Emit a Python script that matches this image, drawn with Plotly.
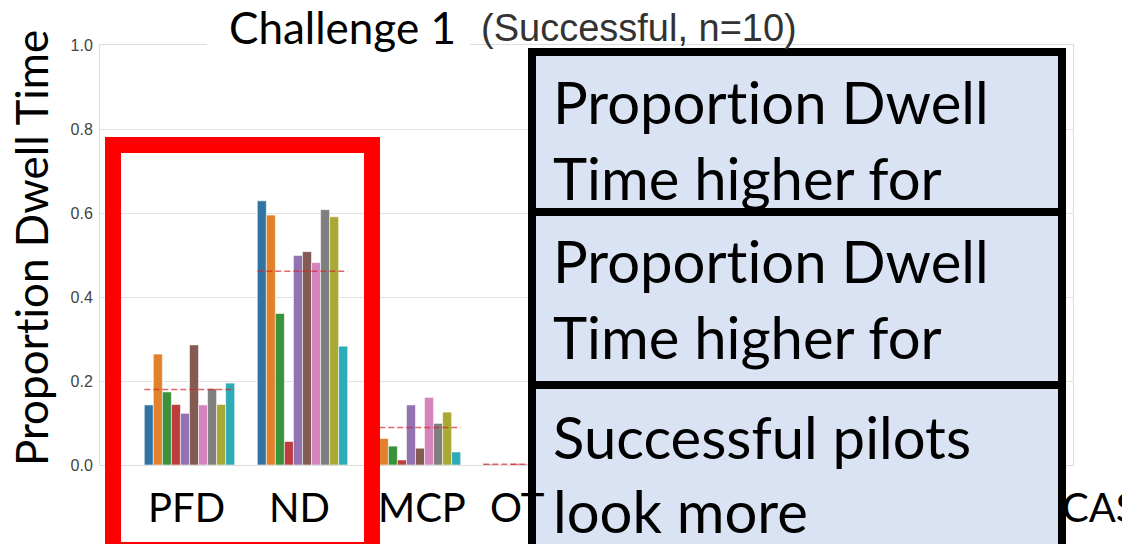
import plotly.graph_objects as go

# ---------------- data ----------------
categories = ["PFD", "ND", "MCP", "OTW", "FMS", "OVHD", "EFB", "CAS"]
pilots = ["P1", "P2", "P3", "P4", "P5", "P6", "P7", "P8", "P9", "P10"]

pfd = [0.143, 0.264, 0.174, 0.144, 0.123, 0.286, 0.143, 0.182, 0.144, 0.195]
nd = [0.629, 0.595, 0.361, 0.056, 0.499, 0.508, 0.482, 0.608, 0.591, 0.283]
mcp = [0.170, 0.063, 0.045, 0.012, 0.143, 0.040, 0.161, 0.099, 0.126, 0.031]
otw = [0.002, 0.001, 0.000, 0.003, 0.002, 0.001, 0.004, 0.002, 0.001, 0.003]
fms = [0.030, 0.020, 0.040, 0.010, 0.030, 0.020, 0.030, 0.020, 0.010, 0.040]
ovhd = [0.010, 0.020, 0.010, 0.000, 0.010, 0.020, 0.010, 0.010, 0.020, 0.010]
efb = [0.020, 0.010, 0.030, 0.020, 0.010, 0.020, 0.010, 0.030, 0.020, 0.010]
cas = [0.010, 0.020, 0.010, 0.010, 0.020, 0.010, 0.010, 0.020, 0.010, 0.020]
series_by_cat = [pfd, nd, mcp, otw, fms, ovhd, efb, cas]

y_ticks = [0.0, 0.2, 0.4, 0.6, 0.8, 1.0]
y_title = "Proportion Dwell Time"
title_main = "Challenge 1"
title_sub = "(Successful, n=10)"
bottom_labels = ["PFD", "ND", "MCP", "OT", "CAS"]
box_texts = [["Proportion Dwell", "Time higher for"],
             ["Proportion Dwell", "Time higher for"],
             ["Successful pilots", "look more"]]
edge_fragments = ["i", "=", "(", ":", "("]

colors = ["#3274a1", "#e1812c", "#3a923a", "#c03d3e", "#9372b2",
          "#845b53", "#d684bd", "#7f7f7f", "#a9aa35", "#2eabb8"]

# ---------------- geometry helpers ----------------
# page has an 8px body margin; positions below are given in window pixels
OFF = 8
W, H = 1130, 544
L, R, T, B = 100 - OFF, 1073 - OFF, 45 - OFF, 465 - OFF


def px(x):
    return (x - OFF - L) / (R - L)


def py(y):
    return (B - (y - OFF)) / (B - T)


def no_lig(s):
    # break the Lato "ti" ligature so the text reads like the original face
    return s.replace("ti", "t\u200ci")


cat_idx = list(range(len(categories)))

fig = go.Figure()
for j, name in enumerate(pilots):
    fig.add_trace(go.Bar(
        x=cat_idx, y=[s[j] for s in series_by_cat], name=name,
        marker=dict(color=colors[j], line=dict(color="rgba(255,255,255,0.7)", width=0.8)),
    ))

for i, s in enumerate(series_by_cat):
    m = sum(s) / len(s)
    fig.add_trace(go.Scatter(
        x=[i - 0.4, i + 0.4], y=[m, m], mode="lines",
        line=dict(color="rgba(214,39,40,0.7)", width=1.5, dash="6px,3px"),
        hoverinfo="skip", showlegend=False,
    ))

shapes = []
# white patch behind the big title
shapes.append(dict(type="rect", xref="paper", yref="paper", x0=px(207), x1=px(470),
                   y0=py(0), y1=py(50), fillcolor="white", line=dict(width=0), layer="above"))
# red frame
shapes.append(dict(type="rect", xref="paper", yref="paper", x0=px(113), x1=px(372),
                   y0=py(145), y1=py(550), fillcolor="rgba(0,0,0,0)",
                   line=dict(color="#ff0000", width=16), layer="above"))
# blue boxes
box_edges = [(52, 212), (212, 385), (385, 570)]
for (y0, y1) in box_edges:
    shapes.append(dict(type="rect", xref="paper", yref="paper", x0=px(532), x1=px(1062),
                       y0=py(y0), y1=py(y1), fillcolor="#dae3f3",
                       line=dict(color="black", width=8), layer="above"))

ann = []
# y axis title
ann.append(dict(text=no_lig(y_title), xref="paper", yref="paper", x=px(31), y=py(248),
                textangle=-90, showarrow=False, xanchor="center", yanchor="middle",
                font=dict(family="Lato", size=44, color="black")))
# titles
ann.append(dict(text=title_main, xref="paper", yref="paper", x=px(227), y=py(27),
                showarrow=False, xanchor="left", yanchor="middle",
                font=dict(family="Lato", size=44, color="black")))
ann.append(dict(text=title_sub, xref="paper", yref="paper", x=px(479), y=py(28),
                showarrow=False, xanchor="left", yanchor="middle",
                font=dict(family="Liberation Sans", size=38, color="#333333")))
# bottom labels
label_x = [186, 299, 422, 488, 1060]
label_anchor = ["center", "center", "center", "left", "left"]
for t, x, a in zip(bottom_labels, label_x, label_anchor):
    ann.append(dict(text=t, xref="paper", yref="paper", x=px(x), y=py(507),
                    showarrow=False, xanchor=a, yanchor="middle",
                    font=dict(family="Lato", size=40, color="black")))
# box texts
line_centers = [(102, 177), (261, 336), (436, 510)]
for lines, centers in zip(box_texts, line_centers):
    for t, c in zip(lines, centers):
        ann.append(dict(text=no_lig(t), xref="paper", yref="paper", x=px(551), y=py(c),
                        showarrow=False, xanchor="left", yanchor="middle",
                        font=dict(family="Lato", size=58, color="black")))
# right-edge fragments
frag_y = [110, 146, 235, 318, 455]
for t, y in zip(edge_fragments, frag_y):
    ann.append(dict(text=t, xref="paper", yref="paper", x=px(1119), y=py(y),
                    showarrow=False, xanchor="left", yanchor="middle",
                    font=dict(family="Lato", size=44, color="black")))

fig.update_layout(
    width=W, height=H,
    margin=dict(l=L, r=W - R, t=T, b=H - B, pad=0),
    paper_bgcolor="white", plot_bgcolor="white",
    barmode="group", bargap=0.2, bargroupgap=0.0,
    showlegend=False,
    shapes=shapes, annotations=ann,
    xaxis=dict(range=[-0.792, 7.819], showticklabels=False, showgrid=False,
               zeroline=False, showline=True, mirror=True, linecolor="#dddddd",
               linewidth=1, ticks=""),
    yaxis=dict(range=[0, 1.0], tickvals=y_ticks, tickformat=".1f",
               showgrid=True, gridcolor="#e2e2e2", gridwidth=1,
               zeroline=False, showline=True, mirror=True, linecolor="#dddddd",
               linewidth=1, ticks="", ticklabelstandoff=3,
               tickfont=dict(family="Liberation Sans", size=16, color="#444444")),
)

fig.write_html("out.html")
